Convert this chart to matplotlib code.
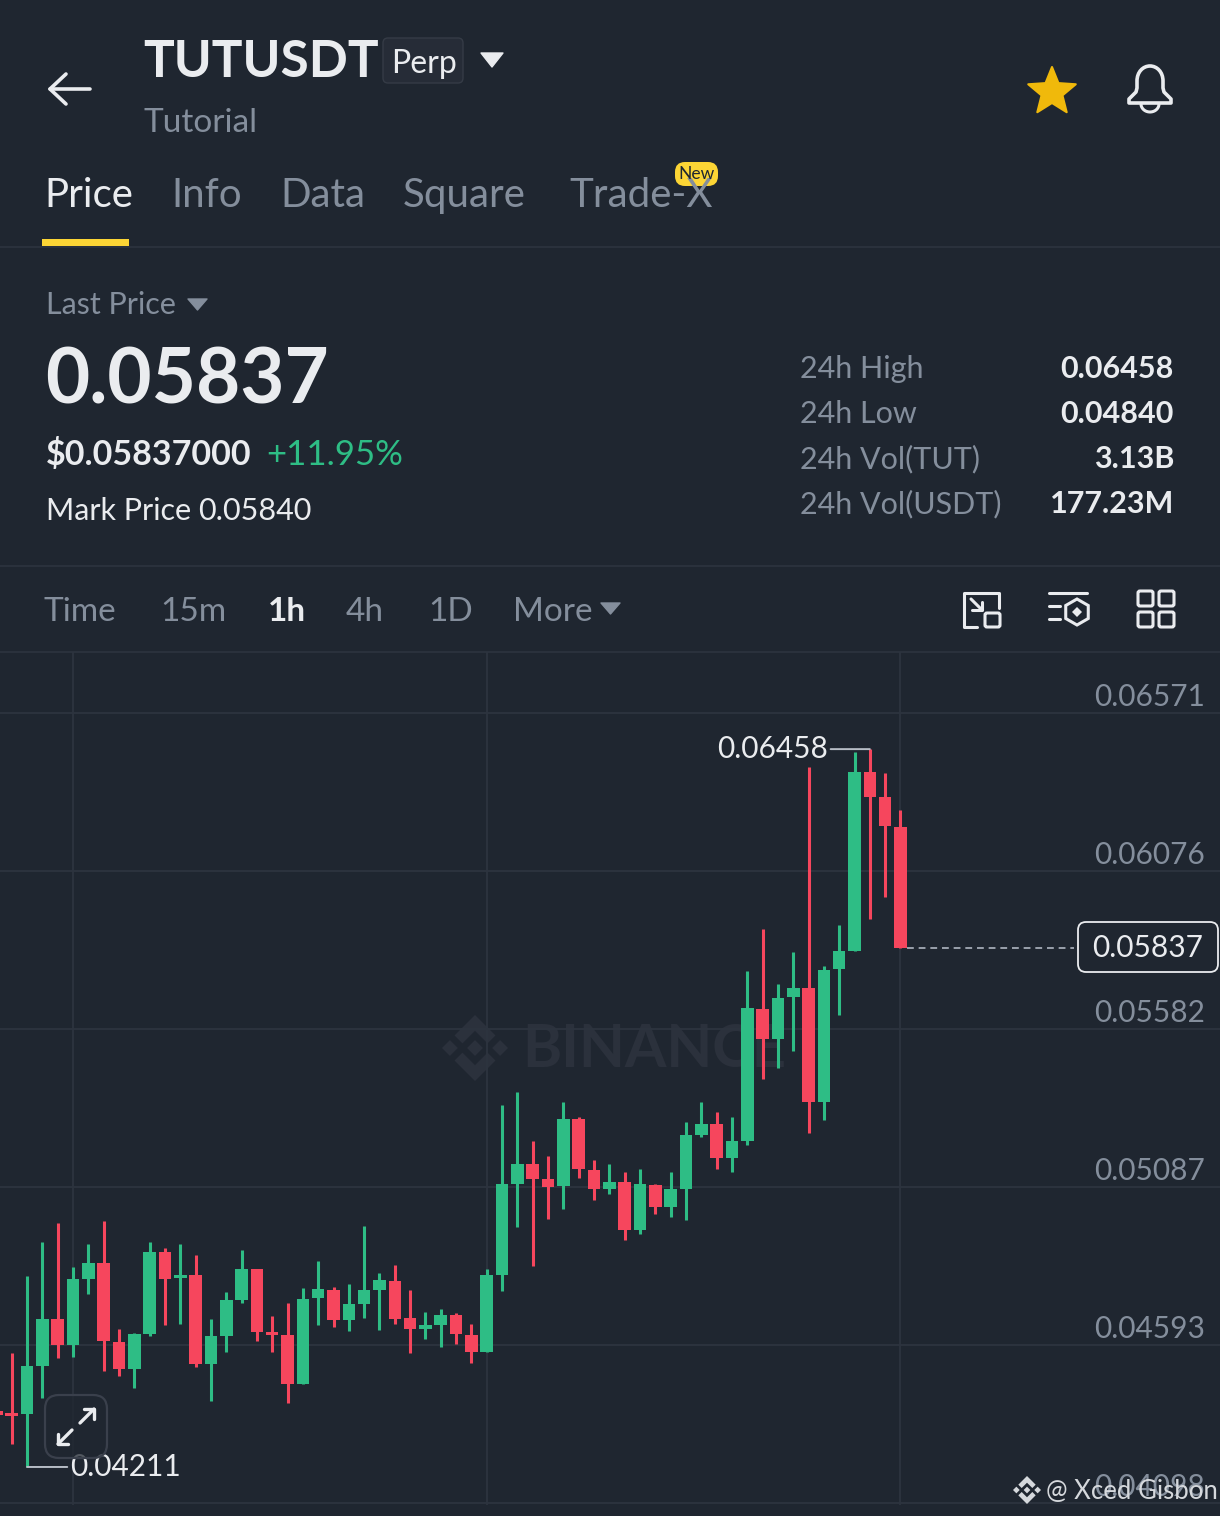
import numpy as np
import matplotlib
matplotlib.use('Agg')
import matplotlib.pyplot as plt
from matplotlib.patches import FancyBboxPatch, Polygon, PathPatch
from matplotlib.path import Path

plt.rcParams['font.family'] = ['Lato', 'DejaVu Sans']

# candles
opens = [0.04386, 0.04380, 0.04377, 0.04527, 0.04674, 0.04593, 0.04799, 0.04849, 0.04602, 0.04518,
         0.04627, 0.04884, 0.04802, 0.04812, 0.04533, 0.04621, 0.04734, 0.04831, 0.04633, 0.04624,
         0.04471, 0.04740, 0.04765, 0.04671, 0.04721, 0.04765, 0.04793, 0.04677, 0.04643, 0.04655,
         0.04687, 0.04624, 0.04571, 0.04812, 0.05097, 0.05159, 0.05112, 0.05090, 0.05300, 0.05140,
         0.05081, 0.05103, 0.04953, 0.05094, 0.05025, 0.05081, 0.05250, 0.05284, 0.05178, 0.05231,
         0.05644, 0.05551, 0.05682, 0.05710, 0.05353, 0.05770, 0.05826, 0.06386, 0.06308, 0.06214]
highs = [0.04386, 0.04568, 0.04809, 0.04915, 0.04975, 0.04837, 0.04909, 0.04981, 0.04643, 0.04630,
         0.04915, 0.04896, 0.04909, 0.04874, 0.04674, 0.04759, 0.04890, 0.04831, 0.04683, 0.04724,
         0.04771, 0.04856, 0.04774, 0.04784, 0.04965, 0.04818, 0.04843, 0.04765, 0.04696, 0.04705,
         0.04693, 0.04658, 0.04831, 0.05344, 0.05385, 0.05231, 0.05184, 0.05353, 0.05306, 0.05172,
         0.05159, 0.05134, 0.05144, 0.05097, 0.05134, 0.05291, 0.05353, 0.05322, 0.05306, 0.05763,
         0.05895, 0.05723, 0.05823, 0.06402, 0.05779, 0.05907, 0.06449, 0.06458, 0.06383, 0.06267]
lows = [0.04374, 0.04283, 0.04211, 0.04427, 0.04552, 0.04555, 0.04752, 0.04511, 0.04496, 0.04458,
        0.04621, 0.04655, 0.04658, 0.04524, 0.04417, 0.04571, 0.04724, 0.04605, 0.04571, 0.04411,
        0.04471, 0.04655, 0.04649, 0.04636, 0.04677, 0.04640, 0.04658, 0.04568, 0.04611, 0.04586,
        0.04596, 0.04536, 0.04571, 0.04762, 0.04962, 0.04840, 0.04987, 0.05018, 0.05115, 0.05047,
        0.05065, 0.04921, 0.04940, 0.05003, 0.04993, 0.04984, 0.05244, 0.05144, 0.05134, 0.05219,
        0.05425, 0.05460, 0.05513, 0.05256, 0.05297, 0.05626, 0.05826, 0.05926, 0.05995, 0.05837]
closes = [0.04374, 0.04370, 0.04527, 0.04674, 0.04593, 0.04799, 0.04849, 0.04605, 0.04518, 0.04627,
          0.04884, 0.04799, 0.04812, 0.04533, 0.04621, 0.04734, 0.04831, 0.04633, 0.04624, 0.04471,
          0.04737, 0.04768, 0.04671, 0.04721, 0.04765, 0.04796, 0.04674, 0.04643, 0.04655, 0.04687,
          0.04627, 0.04571, 0.04812, 0.05097, 0.05159, 0.05112, 0.05087, 0.05300, 0.05144, 0.05081,
          0.05103, 0.04953, 0.05097, 0.05025, 0.05081, 0.05250, 0.05284, 0.05178, 0.05231, 0.05648,
          0.05551, 0.05679, 0.05710, 0.05353, 0.05767, 0.05826, 0.06386, 0.06308, 0.06217, 0.05837]

price_ticks = [0.06571, 0.06076, 0.05582, 0.05087, 0.04593, 0.04098]
time_ticks = [5, 32, 59]
last_price = 0.05837
high_price = 0.06458
low_price = 0.04211

stat_names = ['24h High', '24h Low', '24h Vol(TUT)', '24h Vol(USDT)']
stat_values = ['0.06458', '0.04840', '3.13B', '177.23M']
tab_names = ['Price', 'Info', 'Data', 'Square', 'Trade-X']
tab_x = [44, 171, 280, 403, 569]
interval_names = ['Time', '15m', '1h', '4h', '1D', 'More']
interval_x = [43, 160, 268, 346, 428, 513]

BG = '#1f2630'
GRID = '#2d343f'
WHITE = '#eaecef'
GRAY = '#848e9c'
GREEN = '#2ebd85'
RED = '#f6465d'
YELLOW = '#fcd535'
PX = 0.72  # points per pixel at dpi 100

fig = plt.figure(figsize=(12.2, 15.16), dpi=100, facecolor=BG)


def pixel_axes(zorder):
    a = fig.add_axes([0, 0, 1, 1], zorder=zorder)
    a.set_xlim(0, 1220)
    a.set_ylim(1516, 0)
    a.axis('off')
    return a


def txt(a, x, y, s, size, color=WHITE, weight='normal', ha='left', va='baseline'):
    return a.text(x, y, s, fontsize=size, color=color, fontweight=weight, ha=ha, va=va)


def tri(a, x0, x1, y0, y1, color):
    a.add_patch(Polygon([(x0, y0), (x1, y0), ((x0 + x1) / 2, y1)], closed=True, fc=color, ec=color, lw=1, joinstyle='round'))


def line(a, xs, ys, color=WHITE, lw=2.2):
    a.plot(xs, ys, color=color, lw=lw, solid_capstyle='round', solid_joinstyle='round')


def rbox(a, x0, y0, x1, y1, r, fc='none', ec=WHITE, lw=2.0):
    a.add_patch(FancyBboxPatch((x0 + r, y0 + r), x1 - x0 - 2 * r, y1 - y0 - 2 * r,
                               boxstyle=f'round,pad={r},rounding_size={r}', fc=fc, ec=ec, lw=lw))


def binance_logo(a, cx, cy, s, color):
    shapes = [[(0, -.24), (.24, 0), (0, .24), (-.24, 0)],
              [(-.76, -.24), (-.52, 0), (-.76, .24), (-1, 0)],
              [(.76, -.24), (1, 0), (.76, .24), (.52, 0)],
              [(0, -1), (.62, -.38), (.38, -.14), (0, -.52), (-.38, -.14), (-.62, -.38)],
              [(0, 1), (.62, .38), (.38, .14), (0, .52), (-.38, .14), (-.62, .38)]]
    for sh in shapes:
        a.add_patch(Polygon([(cx + p[0] * s, cy + p[1] * s) for p in sh], closed=True, fc=color, ec='none'))


ui = pixel_axes(0)
ui.set_facecolor(BG)
ui.patch.set_visible(True)
ui.axis('on')
ui.set_xticks([])
ui.set_yticks([])
for sp in ui.spines.values():
    sp.set_visible(False)

# header
line(ui, [50, 90], [89, 89], lw=2.6)
line(ui, [66, 50, 66], [74, 89, 104], lw=2.6)
txt(ui, 143, 77, 'TUTUSDT', 37, weight='bold')
rbox(ui, 383, 38, 463, 83, 5, fc='#262c37', ec='#353b46', lw=1)
txt(ui, 391, 73, 'Perp', 23)
tri(ui, 481, 503, 53, 67, WHITE)
txt(ui, 144, 132, 'Tutorial', 24, GRAY)

# star and bell
ang = np.deg2rad(-90 + 36 * np.arange(10))
rad = np.where(np.arange(10) % 2 == 0, 25, 11)
ui.add_patch(Polygon(np.c_[1052 + rad * np.cos(ang), 92 + rad * np.sin(ang)], closed=True,
                     fc='#f0b90b', ec='#f0b90b', lw=1.5, joinstyle='round'))
bell = Path([(1129, 103), (1129, 99), (1136, 92), (1136, 92), (1137, 88), (1137, 81),
             (1137, 72), (1143, 66), (1150, 66), (1157, 66), (1163, 72), (1163, 81),
             (1163, 88), (1164, 92), (1164, 92), (1171, 99), (1171, 103), (1129, 103)],
            [Path.MOVETO, Path.LINETO, Path.LINETO, Path.LINETO, Path.LINETO, Path.LINETO,
             Path.CURVE4, Path.CURVE4, Path.CURVE4, Path.CURVE4, Path.CURVE4, Path.CURVE4,
             Path.LINETO, Path.LINETO, Path.LINETO, Path.LINETO, Path.LINETO, Path.CLOSEPOLY])
ui.add_patch(PathPatch(bell, fc='none', ec=WHITE, lw=2.6, joinstyle='round'))
clap = np.linspace(0, np.pi, 20)
line(ui, 1150 + 9 * np.cos(clap), 104 + 8 * np.sin(clap), lw=2.2)

# tabs
for name, x in zip(tab_names, tab_x):
    txt(ui, x, 207, name, 29, WHITE if name == 'Price' else GRAY)
ui.add_patch(plt.Rectangle((42, 239), 87, 7, fc=YELLOW, ec='none'))
rbox(ui, 675, 162, 718, 186, 10, fc=YELLOW, ec='none', lw=0)
txt(ui, 696.5, 174, 'New', 12.5, '#1f2630', ha='center', va='center')
ui.plot([0, 1220], [247, 247], color=GRID, lw=1.2)

# price block
txt(ui, 46, 314, 'Last Price', 22, GRAY)
tri(ui, 188, 207, 299, 310, GRAY)
txt(ui, 45, 403, '0.05837', 55, weight='bold')
txt(ui, 46, 465, '$0.05837000', 24.5, weight='bold')
txt(ui, 266, 465, '+11.95%', 25, GREEN)
txt(ui, 46, 520, 'Mark Price', 22)
txt(ui, 198, 520, '0.05840', 22)
for i, (n, v) in enumerate(zip(stat_names, stat_values)):
    y = 378 + 45 * i
    txt(ui, 800, y, n, 22, GRAY)
    txt(ui, 1174, y, v, 22, WHITE, 'bold', ha='right')
ui.plot([0, 1220], [566, 566], color=GRID, lw=1.2)

# interval row
for name, x in zip(interval_names, interval_x):
    sel = name == '1h'
    txt(ui, x, 621, name, 24, WHITE if sel else GRAY, 'bold' if sel else 'normal')
tri(ui, 601, 620, 603, 614, GRAY)
ui.plot([0, 1220], [652, 652], color=GRID, lw=1.2)

# toolbar icons
line(ui, [977, 964, 964, 999, 999], [627, 627, 593, 593, 608], lw=2.2)
rbox(ui, 985, 613, 1000, 627, 2, lw=2.2)
line(ui, [971, 982], [599, 610], lw=2.2)
line(ui, [982, 982, 972], [602, 610, 610], lw=2.2)
line(ui, [1049, 1087], [593, 593], lw=2.2)
line(ui, [1049, 1060], [606, 606], lw=2.2)
line(ui, [1049, 1060], [619, 619], lw=2.2)
hex_a = np.deg2rad(30 + 60 * np.arange(6))
ui.add_patch(Polygon(np.c_[1077 + 13 * np.cos(hex_a), 612 + 13 * np.sin(hex_a)], closed=True, fc='none', ec=WHITE, lw=2.2))
ui.add_patch(Polygon([(1077, 607), (1082, 612), (1077, 617), (1072, 612)], closed=True, fc=WHITE, ec='none'))
for x0 in (1138, 1159):
    for y0 in (591, 612):
        rbox(ui, x0, y0, x0 + 15, y0 + 15, 2, lw=2.2)

# watermark
binance_logo(ui, 475, 1048, 33, '#2b313c')
txt(ui, 522, 1067, 'BINANCE', 43, '#2b313c', 'bold')

# chart
ax = fig.add_axes([0, (1516 - 1505) / 1516, 1, (1505 - 652) / 1516], zorder=1)
ax.patch.set_alpha(0)
ax.set_xlim(0.236, 79.85)
ax.set_ylim(0.04092, 0.06762)
for sp in ax.spines.values():
    sp.set_visible(False)
ax.set_xticks(time_ticks)
ax.set_yticks(price_ticks)
ax.tick_params(length=0, labelbottom=False, labelleft=False)
ax.grid(True, color=GRID, lw=1.3)
ax.set_axisbelow(True)

idx = np.arange(len(opens))
o = np.array(opens)
c = np.array(closes)
colors = [GREEN if up else RED for up in (c > o) | ((c == o))]
ax.vlines(idx, lows, highs, colors=colors, lw=2.2, zorder=2)
ax.bar(idx, np.abs(c - o), bottom=np.minimum(o, c), width=0.82, color=colors, zorder=3)

for t in price_ticks:
    ax.annotate(f'{t:.5f}', xy=(1, t), xycoords=ax.get_yaxis_transform(), xytext=(-15 * PX, 16 * PX),
                textcoords='offset points', ha='right', va='center', fontsize=21.5, color=GRAY)

# high and low markers
ax.annotate(f'{high_price:.5f}', xy=(57, high_price), xytext=(-42 * PX, 0), textcoords='offset points',
            ha='right', va='center', fontsize=21.5, color=WHITE,
            arrowprops=dict(arrowstyle='-', color='#b7bdc6', lw=1.4, shrinkA=0, shrinkB=0))
ax.annotate(f'{low_price:.5f}', xy=(2, low_price), xytext=(43 * PX, 0), textcoords='offset points',
            ha='left', va='center', fontsize=21.5, color=WHITE,
            arrowprops=dict(arrowstyle='-', color='#b7bdc6', lw=1.4, shrinkA=0, shrinkB=0))

# last price line
ax.hlines(last_price, 59.4, 70.3, colors='#9aa1ac', lw=1.4, linestyles=(0, (3.5, 2.5)), zorder=2)

top = pixel_axes(2)
top.patch.set_visible(False)
rbox(top, 1078, 922, 1218, 972, 8, fc=BG, ec=WHITE, lw=1.3)
txt(top, 1148, 948, f'{last_price:.5f}', 21.5, WHITE, ha='center', va='center')

# expand button
rbox(top, 45, 1395, 107, 1458, 14, fc=(0.12, 0.15, 0.19, 0.75), ec='#3a404c', lw=1.6)
line(top, [80, 94], [1423, 1409], lw=2.4)
line(top, [84, 94, 94], [1409, 1409, 1419], lw=2.4)
line(top, [72, 58], [1430, 1444], lw=2.4)
line(top, [58, 58, 68], [1434, 1444, 1444], lw=2.4)

# source mark
binance_logo(top, 1027, 1490, 14, '#d5d8dc')
txt(top, 1046, 1499, '@ Xced Gisbon', 18.5, '#d5d8dc')

fig.savefig('out.png', dpi=100, facecolor=BG)
